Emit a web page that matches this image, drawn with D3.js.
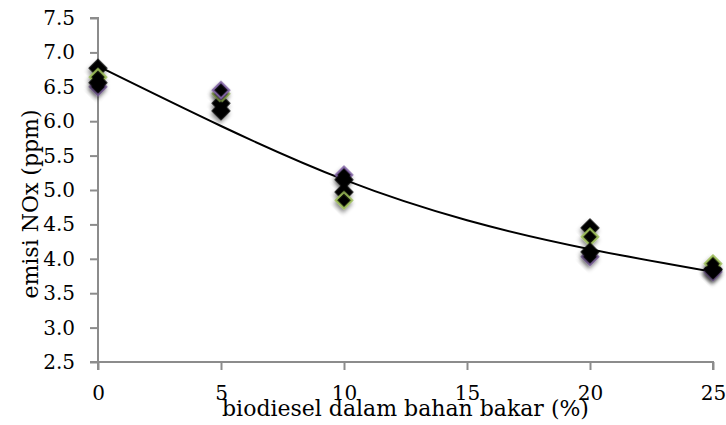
<!DOCTYPE html>
<html>
<head>
<meta charset="utf-8">
<script src="https://cdn.jsdelivr.net/npm/d3@7"></script>
<style>
  body { margin: 0; background: #fff; }
  svg { display: block; }
</style>
</head>
<body>
<svg width="726" height="425"></svg>
<script>
var biodiesel = [0, 5, 10, 20, 25];
var seriesA = [6.77, 6.26, 4.97, 4.45, 3.85];   // black
var seriesB = [6.64, 6.40, 4.85, 4.32, 3.93];   // green outline
var seriesC = [6.50, 6.45, 5.22, 4.03, 3.81];   // purple outline
var seriesD = [6.56, 6.15, 5.15, 4.10, 3.84];   // black
// trendline
var trendX = [0, 5, 10, 15, 20, 25];
var trendY = [6.80, 5.93, 5.15, 4.56, 4.14, 3.81];
var yTicks = [2.5, 3.0, 3.5, 4.0, 4.5, 5.0, 5.5, 6.0, 6.5, 7.0, 7.5];
var xTicks = [0, 5, 10, 15, 20, 25];

var series = [
    {values: seriesA, stroke: '#000'},
    {values: seriesB, stroke: '#9bbb59'},
    {values: seriesC, stroke: '#8064a2'},
    {values: seriesD, stroke: '#000'}
];

var margin = {top: 18, right: 13, bottom: 63, left: 98};
var width = 726 - margin.left - margin.right;
var height = 425 - margin.top - margin.bottom;

var x = d3.scaleLinear().domain([0, 25]).range([0, width]);
var y = d3.scaleLinear().domain([2.5, 7.5]).range([height, 0]);

var svg = d3.select('svg');

var defs = svg.append('defs');
var f = defs.append('filter').attr('id', 'shadow')
    .attr('x', '-60%').attr('y', '-60%').attr('width', '220%').attr('height', '220%');
f.append('feDropShadow')
    .attr('dx', 1.5).attr('dy', 3).attr('stdDeviation', 2.2)
    .attr('flood-color', '#000').attr('flood-opacity', 0.45);

var g = svg.append('g').attr('transform', 'translate(' + margin.left + ',' + margin.top + ')');

// axes
var xAxis = g.append('g')
    .attr('transform', 'translate(0,' + height + ')')
    .call(d3.axisBottom(x).tickValues(xTicks).tickSize(8).tickPadding(16).tickFormat(d3.format('d')));
var yAxis = g.append('g')
    .call(d3.axisLeft(y).tickValues(yTicks).tickSize(8).tickPadding(15).tickFormat(d3.format('.1f')));

[xAxis, yAxis].forEach(function(a) {
    a.select('.domain').attr('stroke', '#8c8c8c').attr('stroke-width', 2);
    a.selectAll('.tick line').attr('stroke', '#8c8c8c').attr('stroke-width', 2);
    a.selectAll('.tick text')
        .style('font-family', 'DejaVu Serif')
        .style('font-size', '20px')
        .attr('fill', '#000');
});
// domain with outer ticks pointing outward
xAxis.select('.domain').attr('d', 'M0,8V0H' + width + 'V8');
yAxis.select('.domain').attr('d', 'M-8,0H0V' + height + 'H-8');

// trendline
g.append('path')
    .datum(trendX.map(function(t, i) { return [t, trendY[i]]; }))
    .attr('fill', 'none')
    .attr('stroke', '#000')
    .attr('stroke-width', 2)
    .attr('d', d3.line()
        .curve(d3.curveNatural)
        .x(function(d) { return x(d[0]); })
        .y(function(d) { return y(d[1]); }));

// markers
var diamond = d3.symbol().type(d3.symbolSquare).size(135);
series.forEach(function(s) {
    g.append('g')
        .selectAll('path')
        .data(s.values)
        .join('path')
        .attr('d', diamond)
        .attr('transform', function(d, i) {
            return 'translate(' + x(biodiesel[i]) + ',' + y(d) + ') rotate(45)';
        })
        .attr('fill', '#000')
        .attr('stroke', s.stroke)
        .attr('stroke-width', 2)
        .attr('filter', 'url(#shadow)');
});

// axis titles
svg.append('text')
    .attr('x', margin.left + width / 2)
    .attr('y', 416)
    .attr('text-anchor', 'middle')
    .style('font-family', 'DejaVu Serif')
    .style('font-size', '22px')
    .text('biodiesel dalam bahan bakar (%)');

svg.append('text')
    .attr('transform', 'translate(38,' + (margin.top + height / 2 + 14) + ') rotate(-90)')
    .attr('text-anchor', 'middle')
    .style('font-family', 'DejaVu Serif')
    .style('font-size', '22px')
    .text('emisi NOx (ppm)');
</script>
</body>
</html>
